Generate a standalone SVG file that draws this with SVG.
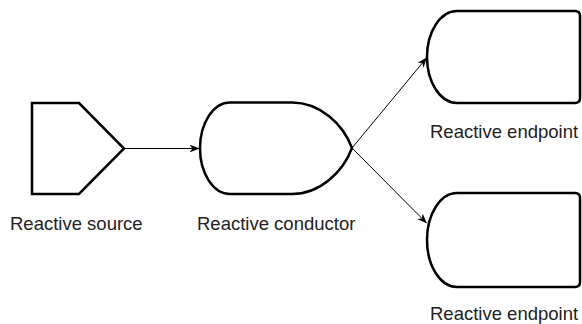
<svg xmlns="http://www.w3.org/2000/svg" width="582" height="324" viewBox="0 0 582 324">
<style>
.shape{fill:#fff;stroke:#000;stroke-width:2.5;stroke-linejoin:miter}
.edge{fill:none;stroke:#000;stroke-width:1}
.lbl{font-family:"Liberation Sans",Arial,sans-serif;font-size:18.5px;fill:#222}
</style>
<defs>
<marker id="arr" viewBox="0 0 10 8" refX="9.5" refY="4" markerWidth="10" markerHeight="8" markerUnits="userSpaceOnUse" orient="auto">
<path d="M0,0 L10,4 L0,8 L3,4 Z" fill="#000"/>
</marker>
</defs>
<rect width="582" height="324" fill="#fff"/>
<g id="edges">
<path class="edge" d="M124,148.5 L199,148.5" marker-end="url(#arr)"/>
<path class="edge" d="M352,148 L426.5,58" marker-end="url(#arr)"/>
<path class="edge" d="M352,148 L426.5,223" marker-end="url(#arr)"/>
</g>
<g id="source">
<path class="shape" d="M32,103 L79,103 L124,148.5 L79,194 L32,194 Z"/>
<text class="lbl" x="10" y="230">Reactive source</text>
</g>
<g id="conductor">
<path class="shape" d="M230,102.5 L292,102.5 C320,102.5 343,124 352,148 C343,172 320,194 292,194 L230,194 A30,45.75 0 0 1 200,148.25 A30,45.75 0 0 1 230,102.5 Z"/>
<text class="lbl" x="197" y="230">Reactive conductor</text>
</g>
<g id="endpoint1">
<path class="shape" d="M457,11 L575,11 Q580,11 580,16 L580,98 Q580,103 575,103 L457,103 A30,46 0 0 1 427,57 A30,46 0 0 1 457,11 Z"/>
<text class="lbl" x="430" y="138">Reactive endpoint</text>
</g>
<g id="endpoint2">
<path class="shape" d="M457,193 L575,193 Q580,193 580,198 L580,282 Q580,287 575,287 L457,287 A30,47 0 0 1 427,240 A30,47 0 0 1 457,193 Z"/>
<text class="lbl" x="430" y="320">Reactive endpoint</text>
</g>
</svg>
